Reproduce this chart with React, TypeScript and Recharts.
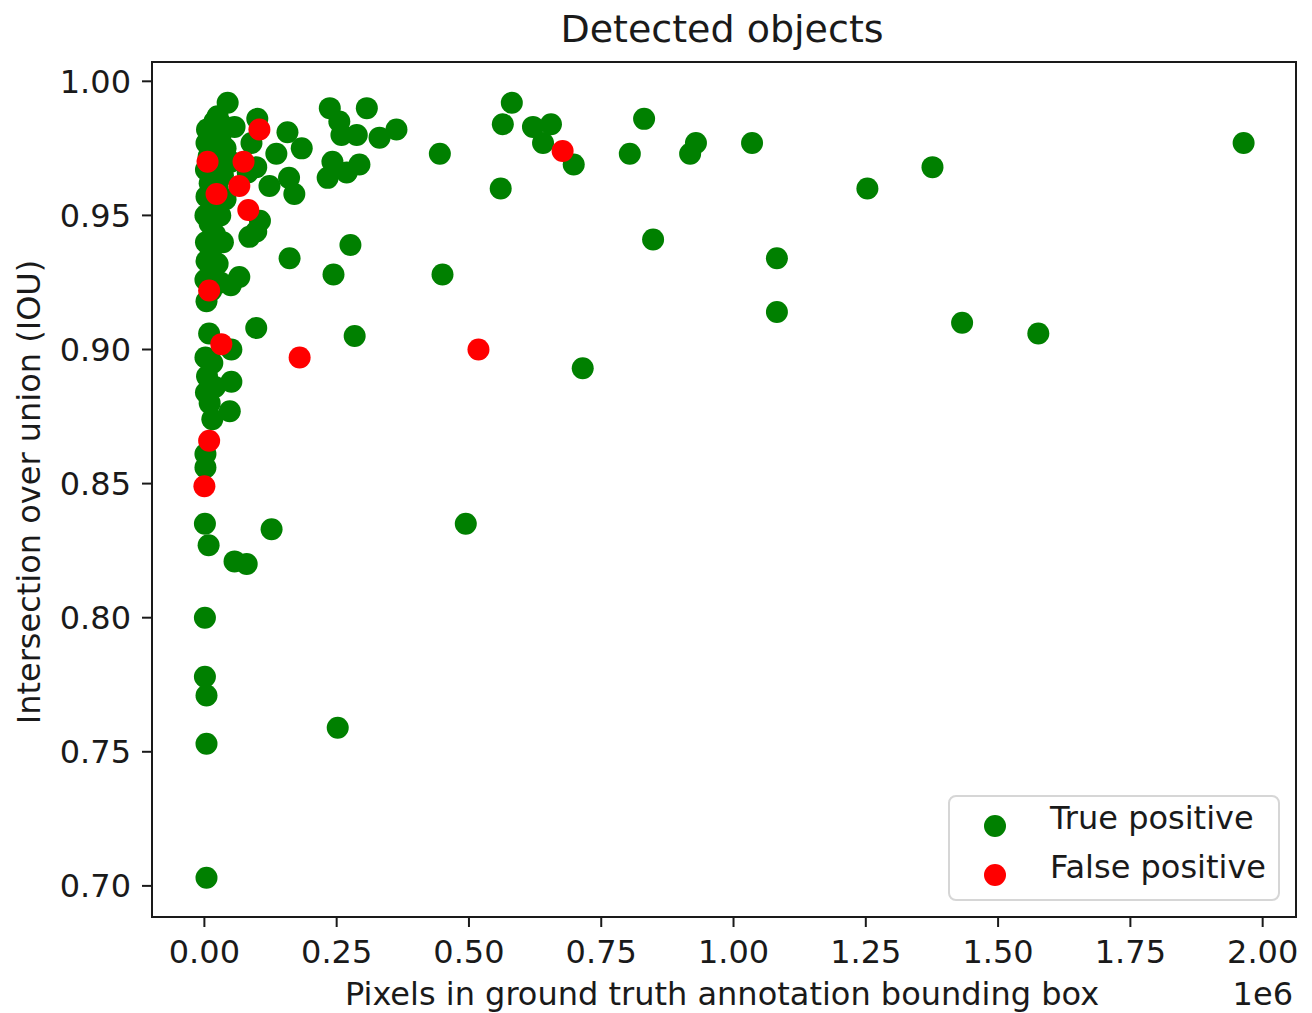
import React from 'react';
import { ScatterChart, Scatter, XAxis, YAxis, ReferenceArea } from 'recharts';

// x values are pixel counts in millions (axis shows the 1e6 offset)
const xTicks = [0, 0.25, 0.5, 0.75, 1.0, 1.25, 1.5, 1.75, 2.0];
const yTicks = [0.7, 0.75, 0.8, 0.85, 0.9, 0.95, 1.0];

const truePositive: [number, number][] = [
  [0.044, 0.992], [0.025, 0.987], [0.019, 0.985], [0.032, 0.984], [0.005, 0.982],
  [0.012, 0.98], [0.03, 0.979], [0.057, 0.983], [0.1, 0.986], [0.004, 0.977],
  [0.02, 0.976], [0.04, 0.975], [0.008, 0.972], [0.028, 0.971], [0.05, 0.97],
  [0.003, 0.967], [0.018, 0.966], [0.035, 0.965], [0.098, 0.968], [0.082, 0.966],
  [0.123, 0.961], [0.16, 0.964], [0.17, 0.958], [0.136, 0.973], [0.157, 0.981],
  [0.184, 0.975], [0.089, 0.977], [0.01, 0.962], [0.025, 0.96], [0.004, 0.957],
  [0.04, 0.956], [0.015, 0.953], [0.002, 0.95], [0.03, 0.95], [0.01, 0.947],
  [0.105, 0.948], [0.098, 0.944], [0.085, 0.942], [0.02, 0.943], [0.003, 0.94],
  [0.035, 0.94], [0.012, 0.936], [0.004, 0.933], [0.025, 0.932], [0.015, 0.928],
  [0.002, 0.926], [0.066, 0.927], [0.05, 0.924], [0.03, 0.925], [0.161, 0.934],
  [0.004, 0.918], [0.013, 0.922], [0.244, 0.928], [0.276, 0.939], [0.009, 0.906],
  [0.098, 0.908], [0.284, 0.905], [0.051, 0.9], [0.002, 0.897], [0.015, 0.895],
  [0.005, 0.89], [0.051, 0.888], [0.02, 0.886], [0.003, 0.884], [0.01, 0.88],
  [0.048, 0.877], [0.015, 0.874], [0.002, 0.861], [0.002, 0.856], [0.127, 0.833],
  [0.001, 0.835], [0.008, 0.827], [0.057, 0.821], [0.08, 0.82], [0.001, 0.8],
  [0.001, 0.778], [0.004, 0.771], [0.004, 0.753], [0.252, 0.759], [0.004, 0.703],
  [0.237, 0.99], [0.307, 0.99], [0.255, 0.985], [0.259, 0.98], [0.288, 0.98],
  [0.331, 0.979], [0.363, 0.982], [0.242, 0.97], [0.233, 0.964], [0.269, 0.966],
  [0.293, 0.969], [0.445, 0.973], [0.45, 0.928], [0.494, 0.835], [0.56, 0.96],
  [0.564, 0.984], [0.581, 0.992], [0.621, 0.983], [0.64, 0.977], [0.655, 0.984],
  [0.698, 0.969], [0.715, 0.893], [0.804, 0.973], [0.831, 0.986], [0.848, 0.941],
  [0.918, 0.973], [0.929, 0.977], [1.035, 0.977], [1.082, 0.934], [1.082, 0.914],
  [1.253, 0.96], [1.376, 0.968], [1.432, 0.91], [1.576, 0.906], [1.964, 0.977],
];

const falsePositive: [number, number][] = [
  [0.006, 0.97], [0.104, 0.982], [0.074, 0.97], [0.066, 0.961], [0.023, 0.958],
  [0.083, 0.952], [0.009, 0.922], [0.032, 0.902], [0.18, 0.897], [0.518, 0.9],
  [0.677, 0.974], [0.009, 0.866], [0.0, 0.849],
];

const toRows = (pts: [number, number][]) => pts.map(([px, iou]) => ({ px, iou }));

const FONT = '"DejaVu Sans", sans-serif';
const INK = '#1a1a1a';
const FS = 32;

const dot = (color: string) => (p: any) => <circle cx={p.cx} cy={p.cy} r={11} fill={color} />;

export default function App() {
  return (
    <div style={{ position: 'absolute', left: 0, top: 0, width: 1312, height: 1013, background: '#fff', fontFamily: FONT, color: INK }}>
      <ScatterChart width={1312} height={1013} margin={{ top: 62, right: 16, bottom: 36, left: 72 }}>
        <XAxis
          type="number"
          dataKey="px"
          domain={[-0.099, 2.063]}
          ticks={xTicks}
          tickFormatter={(v: number) => v.toFixed(2)}
          height={60}
          tickSize={10}
          tickMargin={13}
          stroke={INK}
          strokeWidth={2}
          tick={{ fill: INK, fontSize: FS, fontFamily: FONT }}
          allowDataOverflow
        />
        <YAxis
          type="number"
          dataKey="iou"
          domain={[0.6884, 1.0072]}
          ticks={yTicks}
          tickFormatter={(v: number) => v.toFixed(2)}
          width={80}
          tickSize={10}
          tickMargin={11}
          stroke={INK}
          strokeWidth={2}
          tick={{ fill: INK, fontSize: FS, fontFamily: FONT }}
          allowDataOverflow
        />
        <ReferenceArea x1={-0.099} x2={2.063} y1={0.6884} y2={1.0072} fill="none" stroke={INK} strokeWidth={2} ifOverflow="visible" />
        <Scatter name="True positive" data={toRows(truePositive)} shape={dot('#008000')} isAnimationActive={false} />
        <Scatter name="False positive" data={toRows(falsePositive)} shape={dot('#ff0000')} isAnimationActive={false} />
      </ScatterChart>

      <div style={{ position: 'absolute', left: 422, width: 600, top: 7, textAlign: 'center', fontSize: 38, lineHeight: '44px' }}>
        Detected objects
      </div>
      <div style={{ position: 'absolute', left: 222, width: 1000, top: 975, textAlign: 'center', fontSize: FS, lineHeight: '38px', whiteSpace: 'nowrap' }}>
        Pixels in ground truth annotation bounding box
      </div>
      <div style={{ position: 'absolute', right: 1312 - 1293, top: 975, fontSize: FS, lineHeight: '38px' }}>1e6</div>
      <div
        style={{
          position: 'absolute', left: 29 - 300, top: 492 - 19, width: 600, textAlign: 'center',
          fontSize: FS, lineHeight: '38px', transform: 'rotate(-90deg)', whiteSpace: 'nowrap',
        }}
      >
        Intersection over union (IOU)
      </div>

      <div
        style={{
          position: 'absolute', left: 948, top: 795, width: 332, height: 106, boxSizing: 'border-box',
          border: '2px solid #d6d6d6', borderRadius: 8, background: 'rgba(255,255,255,0.85)',
        }}
      >
        {[
          { label: 'True positive', color: '#008000', y: 29 },
          { label: 'False positive', color: '#ff0000', y: 78 },
        ].map((item) => (
          <div key={item.label}>
            <div style={{ position: 'absolute', left: 34, top: item.y - 11, width: 22, height: 22, borderRadius: 11, background: item.color }} />
            <div style={{ position: 'absolute', left: 100, top: item.y - 27, fontSize: FS, lineHeight: '38px', whiteSpace: 'nowrap' }}>{item.label}</div>
          </div>
        ))}
      </div>
    </div>
  );
}
